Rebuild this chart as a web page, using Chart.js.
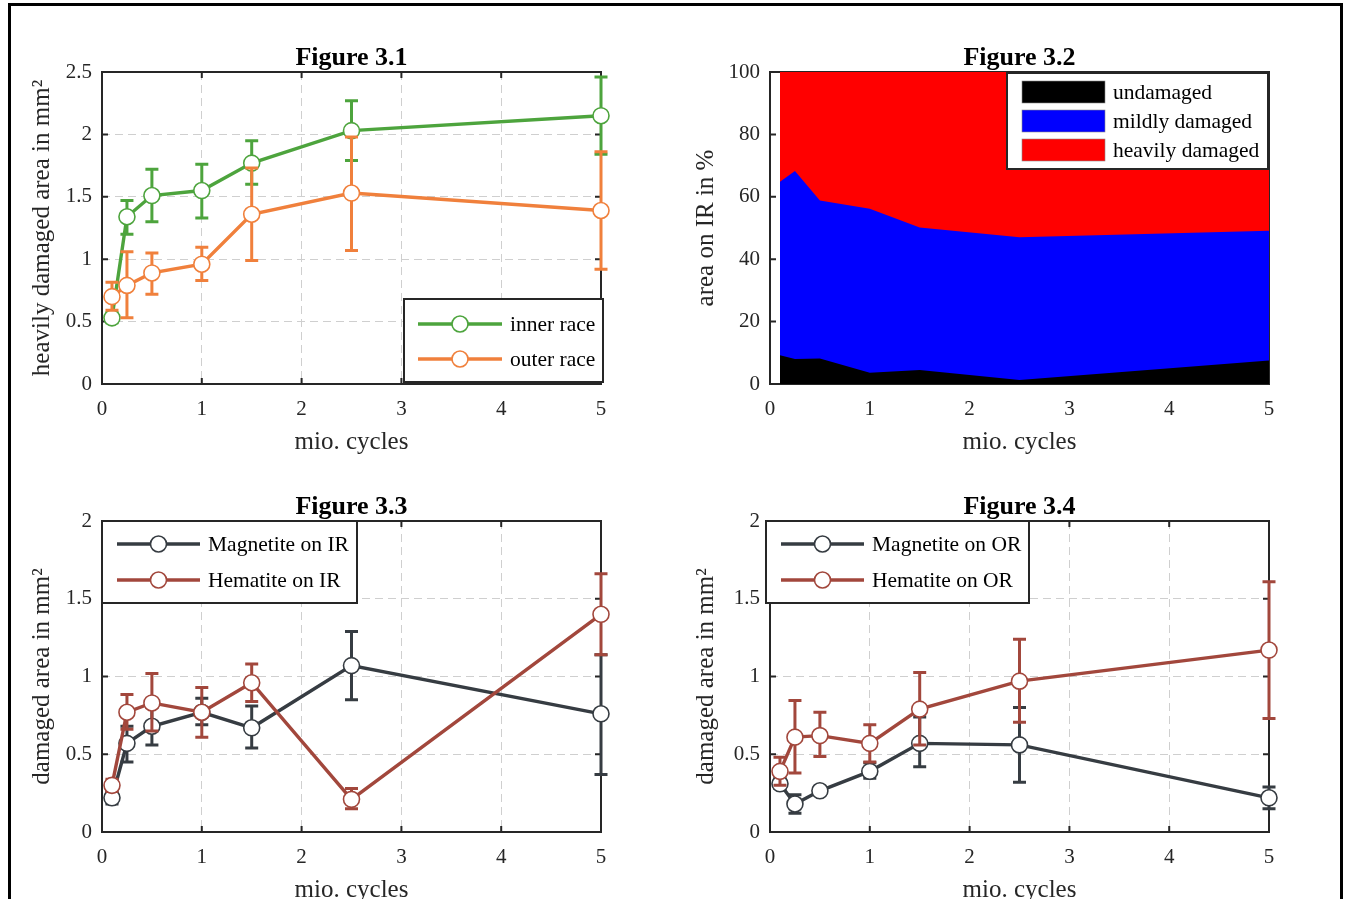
<!DOCTYPE html>
<html>
<head>
<meta charset="utf-8">
<script src="https://cdn.jsdelivr.net/npm/chart.js@4.4.0/dist/chart.umd.min.js"></script>
<style>
  html, body { margin: 0; padding: 0; background: #fff; width: 1346px; height: 899px; overflow: hidden; }
  #page { position: absolute; left: 8px; top: 3px; width: 1329px; height: 940px; border: 3px solid #000; }
  canvas { position: absolute; }
</style>
</head>
<body>
<div id="page"></div>
<canvas id="fig31" width="616" height="430" style="left:24px;top:30px"></canvas>
<canvas id="fig32" width="620" height="430" style="left:688px;top:30px"></canvas>
<canvas id="fig33" width="616" height="429" style="left:24px;top:479px"></canvas>
<canvas id="fig34" width="620" height="429" style="left:688px;top:479px"></canvas>
<script>
// ---- data ----
const cycles = [0.1, 0.25, 0.5, 1, 1.5, 2.5, 5];
const xTicks = [0, 1, 2, 3, 4, 5];
const yTicks31 = [0, 0.5, 1, 1.5, 2, 2.5];
const yTicks32 = [0, 20, 40, 60, 80, 100];
const yTicks34 = [0, 0.5, 1, 1.5, 2];

// Figure 3.1  heavily damaged area (mm^2)
const innerRace     = [0.53, 1.34, 1.51, 1.55, 1.77, 2.03, 2.15];
const innerRaceLow  = [0.49, 1.20, 1.30, 1.33, 1.60, 1.79, 1.84];
const innerRaceHigh = [0.57, 1.47, 1.72, 1.76, 1.95, 2.27, 2.46];
const outerRace     = [0.70, 0.79, 0.89, 0.96, 1.36, 1.53, 1.39];
const outerRaceLow  = [0.59, 0.53, 0.72, 0.83, 0.99, 1.07, 0.92];
const outerRaceHigh = [0.815, 1.06, 1.05, 1.095, 1.73, 1.98, 1.86];

// Figure 3.2  share of IR area (%)
const undamaged      = [9.2, 8.0, 8.2, 3.6, 4.5, 1.3, 7.5];
const mildlyDamaged  = [55.6, 60.3, 50.6, 52.6, 45.7, 45.7, 41.6];
const heavilyDamaged = [35.2, 31.7, 41.2, 43.8, 49.8, 53.0, 50.9];

// Figure 3.3  oxides on IR (mm^2)
const magnetiteIR     = [0.22, 0.57, 0.68, 0.77, 0.67, 1.07, 0.76];
const magnetiteIRLow  = [0.18, 0.45, 0.56, 0.69, 0.54, 0.85, 0.37];
const magnetiteIRHigh = [0.26, 0.68, 0.80, 0.86, 0.81, 1.29, 1.14];
const hematiteIR      = [0.30, 0.77, 0.83, 0.77, 0.96, 0.21, 1.40];
const hematiteIRLow   = [0.26, 0.66, 0.65, 0.61, 0.84, 0.15, 1.14];
const hematiteIRHigh  = [0.34, 0.885, 1.02, 0.93, 1.08, 0.28, 1.66];

// Figure 3.4  oxides on OR (mm^2)
const magnetiteOR     = [0.31, 0.18, 0.265, 0.39, 0.57, 0.56, 0.22];
const magnetiteORLow  = [0.28, 0.12, 0.24, 0.345, 0.42, 0.32, 0.15];
const magnetiteORHigh = [0.35, 0.24, 0.29, 0.445, 0.74, 0.80, 0.29];
const hematiteOR      = [0.39, 0.61, 0.62, 0.57, 0.79, 0.97, 1.17];
const hematiteORLow   = [0.30, 0.38, 0.485, 0.45, 0.56, 0.705, 0.73];
const hematiteORHigh  = [0.48, 0.845, 0.77, 0.69, 1.025, 1.24, 1.61];

// ---- styling ----
const FONT = "'Liberation Serif', 'Times New Roman', serif";
const AX = '#262626';
const GREEN = '#4da43d', ORANGE = '#f0803c', DARK = '#363c42', BROWN = '#a2473c';

const pts = (ys) => cycles.map((x, i) => ({ x: x, y: ys[i] }));

function series(label, color, ys, lo, hi, order) {
  return {
    label, data: pts(ys), errLow: lo, errHigh: hi, order,
    borderColor: color, backgroundColor: color, borderWidth: 3.4,
    pointRadius: 8, pointHoverRadius: 8, pointBorderWidth: 1.6,
    pointBackgroundColor: '#fff', pointBorderColor: color,
    tension: 0, fill: false, clip: false
  };
}

// axes box + inward ticks, under the data like matlab's default layer
const boxPlugin = {
  id: 'boxPlugin',
  beforeDatasetsDraw(chart) {
    const { ctx, chartArea: a, scales } = chart;
    ctx.save();
    ctx.strokeStyle = AX;
    ctx.lineWidth = 2;
    ctx.strokeRect(a.left, a.top, a.right - a.left, a.bottom - a.top);
    ctx.beginPath();
    const t = 6;
    scales.x.ticks.forEach(tk => {
      const px = scales.x.getPixelForValue(tk.value);
      ctx.moveTo(px, a.bottom); ctx.lineTo(px, a.bottom - t);
      ctx.moveTo(px, a.top); ctx.lineTo(px, a.top + t);
    });
    scales.y.ticks.forEach(tk => {
      const py = scales.y.getPixelForValue(tk.value);
      ctx.moveTo(a.left, py); ctx.lineTo(a.left + t, py);
      ctx.moveTo(a.right, py); ctx.lineTo(a.right - t, py);
    });
    ctx.stroke();
    ctx.restore();
  }
};

// vertical error bars, drawn right before each series
const errPlugin = {
  id: 'errPlugin',
  beforeDatasetDraw(chart, args) {
    const ds = chart.data.datasets[args.index];
    if (!ds.errLow) return;
    const { ctx, scales: { x, y } } = chart;
    ctx.save();
    ctx.strokeStyle = ds.borderColor;
    ctx.lineWidth = 3;
    const cap = 6.5;
    ds.data.forEach((p, i) => {
      const px = x.getPixelForValue(p.x);
      const lo = y.getPixelForValue(ds.errLow[i]);
      const hi = y.getPixelForValue(ds.errHigh[i]);
      ctx.beginPath();
      ctx.moveTo(px, lo); ctx.lineTo(px, hi);
      ctx.moveTo(px - cap, lo); ctx.lineTo(px + cap, lo);
      ctx.moveTo(px - cap, hi); ctx.lineTo(px + cap, hi);
      ctx.stroke();
    });
    ctx.restore();
  }
};

// title over the axes + boxed legend inside
const decoPlugin = {
  id: 'deco',
  afterDraw(chart, args, opts) {
    const { ctx, chartArea: a } = chart;
    ctx.save();
    ctx.fillStyle = '#000';
    ctx.font = 'bold 26px ' + FONT;
    ctx.textAlign = 'center';
    ctx.textBaseline = 'alphabetic';
    ctx.fillText(opts.title, (a.left + a.right) / 2, a.top - 7);

    const lg = opts.legend;
    if (lg) {
      const ox = opts.ox, oy = opts.oy;
      ctx.fillStyle = '#fff';
      ctx.fillRect(lg.x - ox, lg.y - oy, lg.w, lg.h);
      ctx.strokeStyle = AX;
      ctx.lineWidth = 2;
      ctx.strokeRect(lg.x - ox, lg.y - oy, lg.w, lg.h);
      lg.items.forEach((it, i) => {
        const ry = lg.rows[i] - oy;
        if (lg.kind === 'patch') {
          ctx.fillStyle = it.color;
          ctx.fillRect(lg.x1 - ox, ry - 11, lg.x2 - lg.x1, 22);
          ctx.strokeStyle = '#8a8a8a';
          ctx.lineWidth = 0.6;
          ctx.strokeRect(lg.x1 - ox, ry - 11, lg.x2 - lg.x1, 22);
        } else {
          ctx.strokeStyle = it.color;
          ctx.lineWidth = 3.4;
          ctx.beginPath();
          ctx.moveTo(lg.x1 - ox, ry); ctx.lineTo(lg.x2 - ox, ry);
          ctx.stroke();
          ctx.beginPath();
          ctx.arc((lg.x1 + lg.x2) / 2 - ox, ry, 8, 0, Math.PI * 2);
          ctx.fillStyle = '#fff';
          ctx.fill();
          ctx.lineWidth = 1.6;
          ctx.stroke();
        }
        ctx.fillStyle = '#000';
        ctx.font = '21.5px ' + FONT;
        ctx.textAlign = 'left';
        ctx.textBaseline = 'middle';
        ctx.fillText(it.label, lg.tx - ox, ry + 1);
      });
    }
    ctx.restore();
  }
};

function makeChart(id, o) {
  const cv = document.getElementById(id);
  const cx = parseFloat(cv.style.left), cy = parseFloat(cv.style.top);
  const cw = cv.width, ch = cv.height;
  const tickFont = { family: FONT, size: 21 };
  const titleFont = { family: FONT, size: 25 };
  const plain = v => String(v);
  return new Chart(cv, {
    type: 'line',
    data: { datasets: o.datasets },
    options: {
      responsive: false,
      animation: false,
      events: [],
      layout: { padding: { top: o.plot.t - cy, right: cx + cw - o.plot.r, left: 0, bottom: 0 } },
      plugins: {
        legend: { display: false },
        title: { display: false },
        tooltip: { enabled: false },
        deco: { title: o.title, legend: o.legend, ox: cx, oy: cy }
      },
      scales: {
        x: {
          type: 'linear', min: 0, max: 5,
          afterBuildTicks: s => { s.ticks = xTicks.map(v => ({ value: v })); },
          afterFit: s => { s.height = cy + ch - o.plot.b; },
          grid: { display: o.grid, color: '#cfcfcf', lineWidth: 1, drawTicks: false },
          border: { display: false, dash: [8, 5] },
          ticks: { color: AX, font: tickFont, padding: 13, maxRotation: 0, callback: plain },
          title: { display: true, text: 'mio. cycles', color: AX, font: titleFont, padding: { top: 0, bottom: 3 } }
        },
        y: {
          type: 'linear', min: o.yMin, max: o.yMax, stacked: !!o.stacked,
          afterBuildTicks: s => { s.ticks = o.yTicks.map(v => ({ value: v })); },
          afterFit: s => { s.width = o.plot.l - cx; },
          grid: { display: o.grid, color: '#cfcfcf', lineWidth: 1, drawTicks: false },
          border: { display: false, dash: [8, 5] },
          ticks: { color: AX, font: tickFont, padding: 10, callback: plain },
          title: { display: true, text: o.yTitle, color: AX, font: titleFont, padding: { top: 3, bottom: 0 } }
        }
      }
    },
    plugins: [boxPlugin, errPlugin, decoPlugin]
  });
}

// Figure 3.1
makeChart('fig31', {
  title: 'Figure 3.1',
  plot: { l: 102, t: 72, r: 601, b: 384 },
  yMin: 0, yMax: 2.5, yTicks: yTicks31, grid: true,
  yTitle: 'heavily damaged area in mm²',
  datasets: [
    series('inner race', GREEN, innerRace, innerRaceLow, innerRaceHigh, 1),
    series('outer race', ORANGE, outerRace, outerRaceLow, outerRaceHigh, 0)
  ],
  legend: { x: 404, y: 299, w: 199, h: 83, rows: [324, 359], x1: 418, x2: 502, tx: 510,
    items: [{ label: 'inner race', color: GREEN }, { label: 'outer race', color: ORANGE }] }
});

// Figure 3.2 (stacked areas)
function area(label, color, ys) {
  return { label, data: pts(ys), fill: 'origin', backgroundColor: color,
    borderColor: 'rgba(0,0,0,0)', borderWidth: 0, pointRadius: 0, tension: 0 };
}
makeChart('fig32', {
  title: 'Figure 3.2',
  plot: { l: 770, t: 72, r: 1269, b: 384 },
  yMin: 0, yMax: 100, yTicks: yTicks32, grid: false, stacked: true,
  yTitle: 'area on IR in %',
  datasets: [
    area('undamaged', '#000000', undamaged),
    area('mildly damaged', '#0000ff', mildlyDamaged),
    area('heavily damaged', '#ff0000', heavilyDamaged)
  ],
  legend: { kind: 'patch', x: 1007, y: 73, w: 261, h: 96, rows: [92, 121, 150], x1: 1022, x2: 1105, tx: 1113,
    items: [{ label: 'undamaged', color: '#000000' }, { label: 'mildly damaged', color: '#0000ff' },
            { label: 'heavily damaged', color: '#ff0000' }] }
});

// Figure 3.3
makeChart('fig33', {
  title: 'Figure 3.3',
  plot: { l: 102, t: 521, r: 601, b: 832 },
  yMin: 0, yMax: 2, yTicks: yTicks34, grid: true,
  yTitle: 'damaged area in mm²',
  datasets: [
    series('Magnetite on IR', DARK, magnetiteIR, magnetiteIRLow, magnetiteIRHigh, 1),
    series('Hematite on IR', BROWN, hematiteIR, hematiteIRLow, hematiteIRHigh, 0)
  ],
  legend: { x: 102, y: 521, w: 255, h: 82, rows: [544, 580], x1: 117, x2: 200, tx: 208,
    items: [{ label: 'Magnetite on IR', color: DARK }, { label: 'Hematite on IR', color: BROWN }] }
});

// Figure 3.4
makeChart('fig34', {
  title: 'Figure 3.4',
  plot: { l: 770, t: 521, r: 1269, b: 832 },
  yMin: 0, yMax: 2, yTicks: yTicks34, grid: true,
  yTitle: 'damaged area in mm²',
  datasets: [
    series('Magnetite on OR', DARK, magnetiteOR, magnetiteORLow, magnetiteORHigh, 1),
    series('Hematite on OR', BROWN, hematiteOR, hematiteORLow, hematiteORHigh, 0)
  ],
  legend: { x: 766, y: 521, w: 263, h: 82, rows: [544, 580], x1: 781, x2: 864, tx: 872,
    items: [{ label: 'Magnetite on OR', color: DARK }, { label: 'Hematite on OR', color: BROWN }] }
});
</script>
</body>
</html>
